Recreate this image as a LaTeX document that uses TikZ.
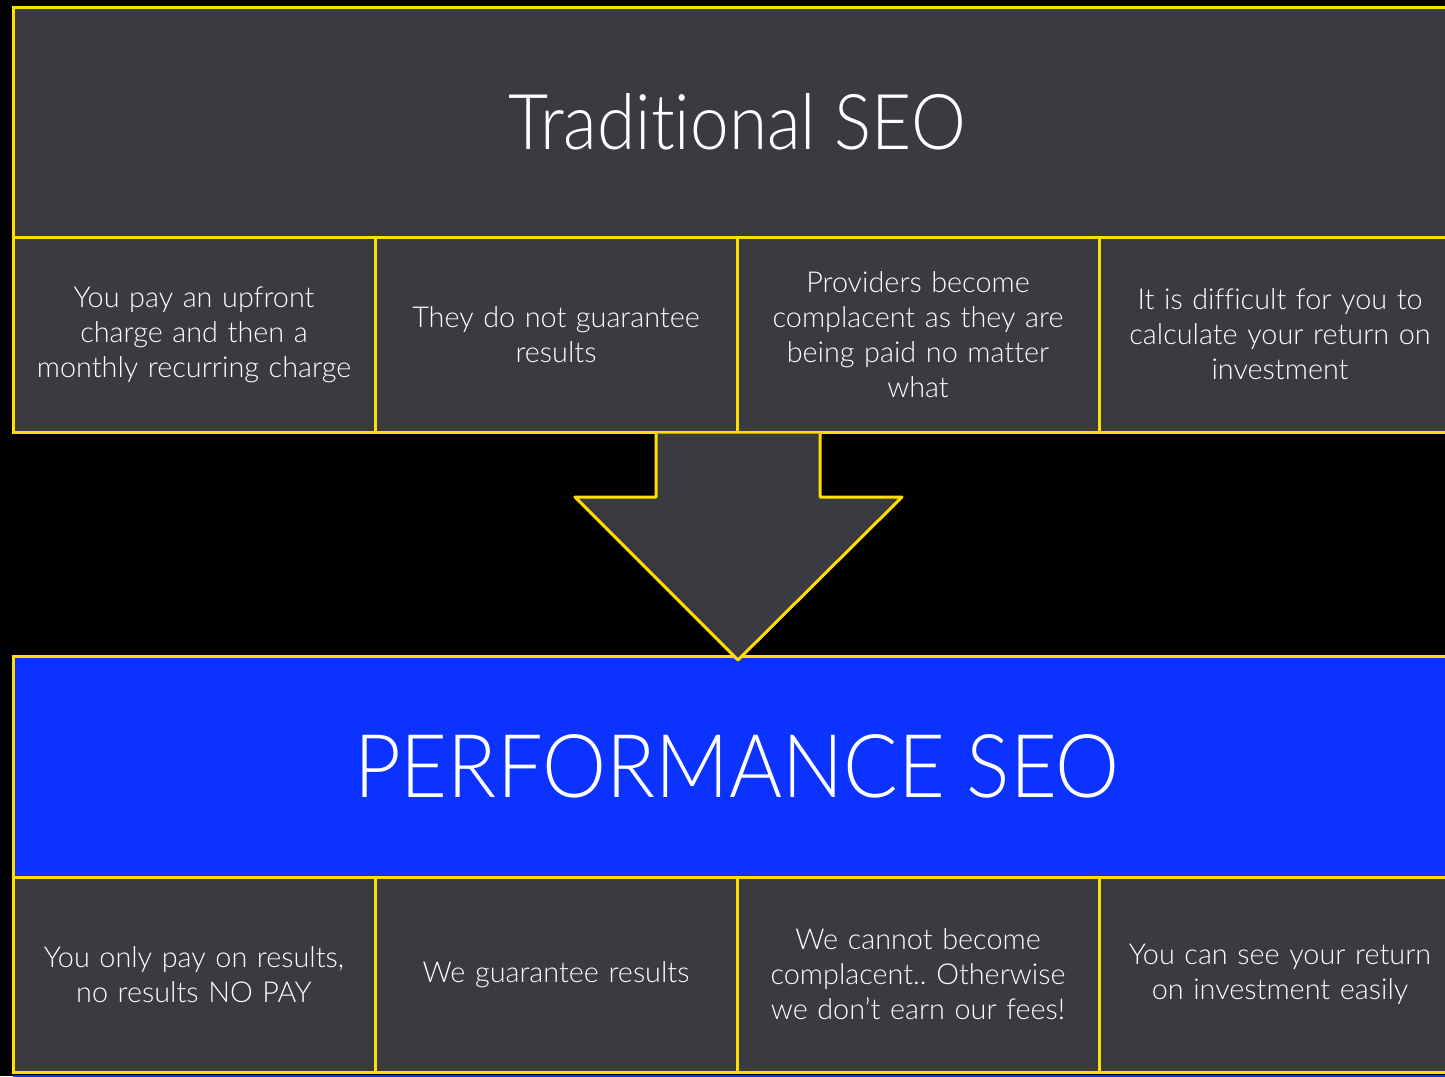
\documentclass[tikz,border=0pt]{standalone}
\usepackage{fontspec}
\setmainfont{Lato}[UprightFont=* Light, Ligatures=NoCommon]
\usetikzlibrary{positioning}
\frenchspacing
\definecolor{slideBg}{RGB}{0,0,0}
\definecolor{cellBg}{RGB}{58,59,64}
\definecolor{cellBorder}{RGB}{255,222,0}
\definecolor{perfBg}{RGB}{12,50,255}
\tikzset{
  headbox/.style={draw=cellBorder, line width=3pt, fill=cellBg, text=white,
    minimum width=1448pt, minimum height=230pt, inner sep=0pt, outer sep=0pt,
    anchor=north west},
  cellbox/.style={draw=cellBorder, line width=3pt, fill=cellBg, text=white,
    minimum width=362pt, minimum height=195pt, text width=355pt, align=center,
    inner sep=0pt, outer sep=0pt, font=\fontsize{28.8}{35}\selectfont}
}

\begin{document}
\begin{tikzpicture}[x=1pt, y=-1pt]
   \fill[slideBg] (0,0) rectangle (1445,1076);
   \clip (0,0) rectangle (1445,1076);

   % old way
   \node[headbox] (trad) at (13,7) {\scalebox{0.9}[1]{\fontsize{77}{80}\selectfont Traditional SEO}};
   \node[cellbox, anchor=north west] (trad1) at (trad.south west) {You pay an upfront\\charge and then a\\monthly recurring charge};
   \node[cellbox, right=0pt of trad1] (trad2) {They do not guarantee\\results};
   \node[cellbox, right=0pt of trad2] (trad3) {Providers become\\complacent as they are\\being paid no matter\\what};
   \node[cellbox, right=0pt of trad3] (trad4) {It is difficult for you to\\calculate your return on\\investment};

   % new way
   \node[headbox, fill=perfBg, minimum height=221pt] (perf) at (13,656) {\scalebox{0.92}[1]{\fontsize{88}{90}\selectfont PERFORMANCE SEO}};
   \node[cellbox, anchor=north west] (perf1) at (perf.south west) {You only pay on results,\\no results NO PAY};
   \node[cellbox, right=0pt of perf1] (perf2) {We guarantee results};
   \node[cellbox, right=0pt of perf2] (perf3) {We cannot become\\complacent.. Otherwise\\we don’t earn our fees!};
   \node[cellbox, right=0pt of perf3] (perf4) {You can see your return\\on investment easily};

   \fill[perfBg] (13,1074.5) rectangle (1470,1090);

   % arrow between them
   \draw[draw=cellBorder, fill=cellBg, line width=3pt, line join=round]
     (656,433.5) -- (656,497) -- (575,497) -- (738,660) -- (902,497) -- (820,497) -- (820,433.5);
\end{tikzpicture}
\end{document}
